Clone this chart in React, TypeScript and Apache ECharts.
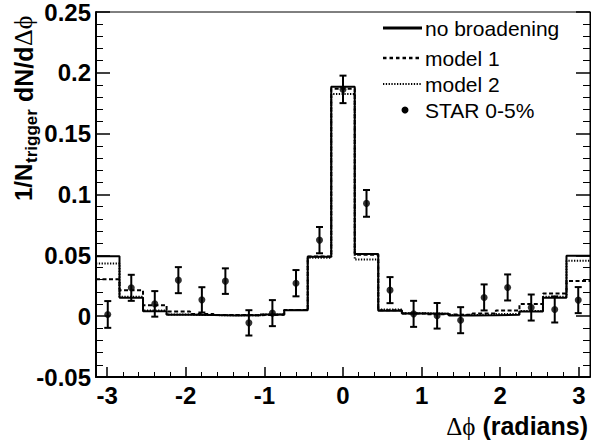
import React, { useEffect, useRef } from "react";
import * as echarts from "echarts";

const PI = Math.PI;
const SANS = '"Liberation Sans", Arial, Helvetica, sans-serif';
const SERIF = '"Liberation Serif", "DejaVu Serif", "Times New Roman", serif';

// bin centres (radians), 21 bins over [-pi, pi]
const phiCenters = [
  -2.992, -2.693, -2.394, -2.094, -1.795, -1.496, -1.197, -0.898, -0.598, -0.299,
  0, 0.299, 0.598, 0.898, 1.197, 1.496, 1.795, 2.094, 2.394, 2.693, 2.992,
];
const binWidth = 0.2992;

const noBroadening = [
  0.0493, 0.0151, 0.0041, 0.0012, 0.001, 0.0006, 0.0007, 0.0013, 0.0049, 0.0488,
  0.1886, 0.051, 0.0044, 0.0022, 0.0019, 0.0006, 0.0008, 0.0011, 0.0039, 0.0151, 0.0496,
];
const model1 = [
  0.0304, 0.0214, 0.009, 0.0038, 0.0018, 0.001, 0.0008, 0.0012, 0.005, 0.049,
  0.187, 0.0505, 0.0048, 0.0022, 0.0015, 0.0011, 0.0022, 0.0047, 0.0099, 0.0187, 0.029,
];
const model2 = [
  0.0433, 0.016, 0.0046, 0.0013, 0.0009, 0.0007, 0.0007, 0.0013, 0.005, 0.048,
  0.1826, 0.0466, 0.0055, 0.0024, 0.002, 0.001, 0.0012, 0.0018, 0.0042, 0.016, 0.0455,
];
const starValues = [
  0.0014, 0.0233, 0.0101, 0.0296, 0.0134, 0.0288, -0.0055, 0.0025, 0.0271, 0.0625,
  0.1864, 0.0927, 0.0214, 0.0019, 0.0003, -0.0033, 0.0154, 0.0236, 0.0071, 0.0055, 0.0132,
];
const starErrors = [
  0.011, 0.0107, 0.0105, 0.0107, 0.0104, 0.0105, 0.0104, 0.0107, 0.0108, 0.0108,
  0.0113, 0.011, 0.0107, 0.0107, 0.0105, 0.0107, 0.0107, 0.0107, 0.0107, 0.0107, 0.0107,
];

const xMajorTicks = [-3, -2, -1, 0, 1, 2, 3];
const xMinorTicks = [
  -2.8, -2.6, -2.4, -2.2, -1.8, -1.6, -1.4, -1.2, -0.8, -0.6, -0.4, -0.2,
  0.2, 0.4, 0.6, 0.8, 1.2, 1.4, 1.6, 1.8, 2.2, 2.4, 2.6, 2.8,
];
const legendLabels = ["no broadening", "model 1", "model 2", "STAR 0-5%"];

function histData(vals: number[]) {
  const pts: number[][] = vals.map((v, i) => [phiCenters[i] - binWidth / 2, v]);
  const last = vals.length - 1;
  pts.push([phiCenters[last] + binWidth / 2, vals[last]]);
  return pts;
}

export default function App() {
  const ref = useRef<HTMLDivElement>(null);
  useEffect(() => {
    document.body.style.margin = "0";
    if (!ref.current) return;
    const chart = echarts.init(ref.current, undefined, { renderer: "svg" });
    const tickLabel = {
      color: "#000",
      fontSize: 24,
      lineHeight: 18,
      fontWeight: "bold" as const,
      fontFamily: SANS,
    };
    const histLine = (name: string, vals: number[], width: number, type: any) => ({
      name,
      type: "line",
      step: "end",
      data: histData(vals),
      showSymbol: false,
      symbol: "none",
      lineStyle: { color: "#000", width, type, cap: "butt" },
      xAxisIndex: 0,
      yAxisIndex: 0,
      z: 3,
    });
    const option: any = {
      animation: false,
      grid: {
        left: 96,
        right: 1,
        top: 12,
        bottom: 65,
        show: true,
        borderColor: "#000",
        borderWidth: 1,
        containLabel: false,
        outerBoundsMode: "none",
      },
      xAxis: [
        {
          type: "value",
          min: -PI,
          max: PI,
          position: "bottom",
          axisLine: { show: true, onZero: false, lineStyle: { color: "#000", width: 2 } },
          axisTick: {
            show: true,
            inside: true,
            length: 10,
            customValues: xMajorTicks,
            lineStyle: { color: "#000", width: 1.5 },
          },
          axisLabel: { ...tickLabel, customValues: xMajorTicks, margin: 9 },
          splitLine: { show: false },
        },
        {
          type: "value",
          min: -PI,
          max: PI,
          position: "bottom",
          axisLine: { show: false, onZero: false },
          axisTick: {
            show: true,
            inside: true,
            length: 5,
            customValues: xMinorTicks,
            lineStyle: { color: "#000", width: 1 },
          },
          axisLabel: { show: false },
          splitLine: { show: false },
        },
      ],
      yAxis: [
        {
          type: "value",
          min: -0.05,
          max: 0.25,
          interval: 0.05,
          position: "left",
          axisLine: { show: true, onZero: false, lineStyle: { color: "#000", width: 2 } },
          axisTick: { show: true, inside: true, length: 14, lineStyle: { color: "#000", width: 1.5 } },
          minorTick: { show: true, splitNumber: 5, length: 7, lineStyle: { color: "#000", width: 1 } },
          axisLabel: { ...tickLabel, margin: 5 },
          splitLine: { show: false },
          minorSplitLine: { show: false },
        },
        {
          type: "value",
          min: -0.05,
          max: 0.25,
          interval: 0.05,
          position: "right",
          axisLine: { show: true, onZero: false, lineStyle: { color: "#000", width: 1 } },
          axisTick: { show: true, inside: true, length: 14, lineStyle: { color: "#000", width: 1.5 } },
          minorTick: { show: true, splitNumber: 5, length: 7, lineStyle: { color: "#000", width: 1 } },
          axisLabel: { show: false },
          splitLine: { show: false },
        },
      ],
      series: [
        histLine(legendLabels[0], noBroadening, 2, "solid"),
        histLine(legendLabels[1], model1, 2, [4, 2.5]),
        histLine(legendLabels[2], model2, 2, [1.3, 1.5]),
        {
          name: "errors",
          type: "custom",
          xAxisIndex: 0,
          yAxisIndex: 0,
          data: phiCenters.map((x, i) => [x, starValues[i] - starErrors[i], starValues[i] + starErrors[i]]),
          encode: { x: 0, y: [1, 2] },
          renderItem: (_p: any, api: any) => {
            const lo = api.coord([api.value(0), api.value(1)]);
            const hi = api.coord([api.value(0), api.value(2)]);
            const cap = 3.5;
            const st = { stroke: "#000", lineWidth: 2 };
            return {
              type: "group",
              children: [
                { type: "line", shape: { x1: lo[0], y1: lo[1], x2: hi[0], y2: hi[1] }, style: st },
                { type: "line", shape: { x1: lo[0] - cap, y1: lo[1], x2: lo[0] + cap, y2: lo[1] }, style: st },
                { type: "line", shape: { x1: hi[0] - cap, y1: hi[1], x2: hi[0] + cap, y2: hi[1] }, style: st },
              ],
            };
          },
          z: 5,
        },
        {
          name: legendLabels[3],
          type: "scatter",
          xAxisIndex: 0,
          yAxisIndex: 0,
          data: phiCenters.map((x, i) => [x, starValues[i]]),
          symbol: "circle",
          symbolSize: 7,
          itemStyle: { color: "#000" },
          z: 6,
        },
      ],
      graphic: [
        // legend
        { type: "line", shape: { x1: 383, y1: 28, x2: 422, y2: 28 }, style: { stroke: "#000", lineWidth: 3 } },
        {
          type: "line",
          shape: { x1: 383, y1: 58, x2: 422, y2: 58 },
          style: { stroke: "#000", lineWidth: 2.5, lineDash: [3.5, 3] },
        },
        {
          type: "line",
          shape: { x1: 383, y1: 84, x2: 422, y2: 84 },
          style: { stroke: "#000", lineWidth: 2, lineDash: [1.3, 1.5] },
        },
        { type: "circle", shape: { cx: 405, cy: 110, r: 3.5 }, style: { fill: "#000" } },
        ...legendLabels.map((t, i) => ({
          type: "text",
          x: 425,
          y: [28, 58, 84, 110][i],
          style: { text: t, fontSize: 21, fontFamily: SANS, fill: "#000", verticalAlign: "middle", align: "left" },
        })),
        // x-axis title
        {
          type: "text",
          x: 588,
          y: 426,
          style: {
            text: "{s|Δϕ} {b|(radians)}",
            fontSize: 25,
            fontFamily: SANS,
            fontWeight: "bold",
            fill: "#000",
            align: "right",
            verticalAlign: "middle",
            rich: {
              s: { fontFamily: SERIF, fontSize: 25, fontWeight: "normal", fill: "#000" },
              b: { fontFamily: SANS, fontSize: 25, fontWeight: "bold", fill: "#000" },
            },
          },
        },
        // y-axis title, rotated
        {
          type: "group",
          x: 0,
          y: 201,
          rotation: PI / 2,
          children: [
            {
              type: "text",
              x: 0,
              y: 23.6,
              style: { text: "1/N", fontSize: 24, fontWeight: "bold", fontFamily: SANS, fill: "#000", verticalAlign: "middle" },
            },
            {
              type: "text",
              x: 38,
              y: 31.5,
              style: { text: "trigger", fontSize: 17, fontWeight: "bold", fontFamily: SANS, fill: "#000", verticalAlign: "middle" },
            },
            {
              type: "text",
              x: 99,
              y: 23.6,
              style: { text: "dN/d", fontSize: 25, fontWeight: "bold", fontFamily: SANS, fill: "#000", verticalAlign: "middle" },
            },
            {
              type: "text",
              x: 155,
              y: 23.6,
              style: { text: "Δϕ", fontSize: 26, fontWeight: "normal", fontFamily: SERIF, fill: "#000", verticalAlign: "middle" },
            },
          ],
        },
      ],
    };
    chart.setOption(option);
    return () => chart.dispose();
  }, []);
  return <div ref={ref} style={{ width: 591, height: 442, background: "#fff" }} />;
}
